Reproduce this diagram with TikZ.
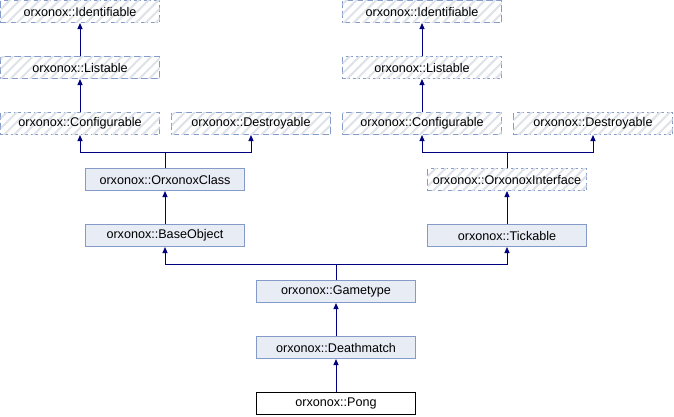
\documentclass[tikz,border=0pt]{standalone}
\usepackage{fontspec}
\setmainfont{Liberation Sans}
\usetikzlibrary{arrows.meta,patterns.meta}
\definecolor{bordc}{RGB}{132,154,201}
\definecolor{fillc}{RGB}{231,236,245}
\definecolor{hatchc}{RGB}{222,226,233}
\definecolor{arrc}{RGB}{0,0,128}
\tikzset{
  cls/.style={draw=bordc, fill=fillc, line width=1pt, minimum width=159pt, minimum height=22pt, inner sep=0pt, font=\fontsize{12.6}{15}\selectfont},
  hcls/.style={cls, dash pattern=on 7pt off 3pt, fill=white, postaction={pattern={Lines[angle=45,distance=7pt,line width=2pt]}, pattern color=hatchc}},
  leaf/.style={cls, draw=black, fill=white},
  arr/.style={draw=arrc, line width=1pt, -{Triangle[width=5pt,length=6pt]}}
}
\begin{document}
\begin{tikzpicture}[x=1pt,y=-1pt]
\useasboundingbox (0,0) rectangle (674,416);
\node[hcls] (id1) at (80,11.5) {orxonox::Identifiable};
\node[hcls] (id2) at (422,11.5) {orxonox::Identifiable};
\node[hcls] (li1) at (80,67.5) {orxonox::Listable};
\node[hcls] (li2) at (422,67.5) {orxonox::Listable};
\node[hcls] (co1) at (80,123.5) {orxonox::Configurable};
\node[hcls] (de1) at (251,123.5) {orxonox::Destroyable};
\node[hcls] (co2) at (422,123.5) {orxonox::Configurable};
\node[hcls] (de2) at (593,123.5) {orxonox::Destroyable};
\node[cls] (ocl) at (165,179.5) {orxonox::OrxonoxClass};
\node[hcls] (oif) at (507,179.5) {orxonox::OrxonoxInterface};
\node[cls] (bo) at (165,235.5) {orxonox::BaseObject};
\node[cls] (ti) at (507,235.5) {orxonox::Tickable};
\node[cls] (gt) at (336,291.5) {orxonox::Gametype};
\node[cls] (dm) at (336,347.5) {orxonox::Deathmatch};
\node[leaf] (po) at (336,403.5) {orxonox::Pong};

\draw[arr] (li1.north) -- (id1.south);
\draw[arr] (li2.north) -- (id2.south);
\draw[arr] (co1.north) -- (li1.south);
\draw[arr] (co2.north) -- (li2.south);
\draw[arr] (ocl.north) -- (ocl.north |- 0,152) -| (co1.south);
\draw[arr] (ocl.north) -- (ocl.north |- 0,152) -| (de1.south);
\draw[arr] (oif.north) -- (oif.north |- 0,152) -| (co2.south);
\draw[arr] (oif.north) -- (oif.north |- 0,152) -| (de2.south);
\draw[arr] (bo.north) -- (ocl.south);
\draw[arr] (ti.north) -- (oif.south);
\draw[arr] (gt.north) -- (gt.north |- 0,264) -| (bo.south);
\draw[arr] (gt.north) -- (gt.north |- 0,264) -| (ti.south);
\draw[arr] (dm.north) -- (gt.south);
\draw[arr] (po.north) -- (dm.south);
\end{tikzpicture}
\end{document}
